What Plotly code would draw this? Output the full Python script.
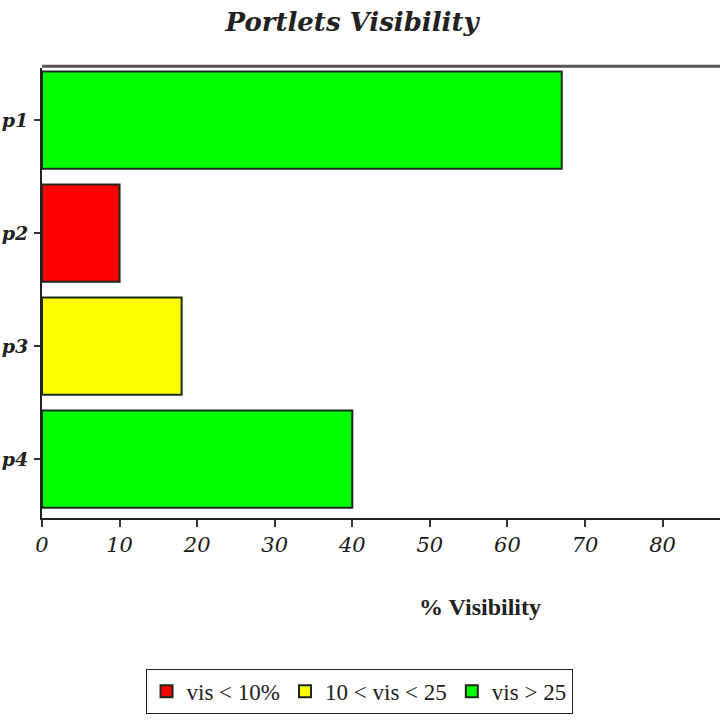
import plotly.graph_objects as go

# data
portlets = ["p1", "p2", "p3", "p4"]
visibility = [67, 10, 18, 40]
x_ticks = [0, 10, 20, 30, 40, 50, 60, 70, 80, 90]

groups = ["vis < 10%", "10 < vis < 25", "vis > 25"]
group_colors = ["#ff0000", "#ffff00", "#00ff00"]


def group_of(v):
    if v <= 10:
        return 0
    if v < 25:
        return 1
    return 2


fig = go.Figure()
for gi, name in enumerate(groups):
    ys = [p for p, v in zip(portlets, visibility) if group_of(v) == gi]
    xs = [v for v in visibility if group_of(v) == gi]
    fig.add_trace(go.Bar(
        x=xs, y=ys, name=name, orientation="h",
        marker=dict(color=group_colors[gi], line=dict(color="#1c2a1c", width=2)),
        width=0.86,
    ))

fig.update_layout(
    width=720, height=720,
    margin=dict(l=42, r=0, t=68, b=202),
    paper_bgcolor="white", plot_bgcolor="white",
    barmode="overlay",
    title=dict(text="<b><i>Portlets Visibility</i></b>", x=0.489, xanchor="center",
               y=0.969, yanchor="middle",
               font=dict(family="DejaVu Serif", size=26, color="#222")),
    legend=dict(orientation="h", x=0.4676, xanchor="center", y=-0.335, yanchor="top",
                bordercolor="#222", borderwidth=1,
                font=dict(family="Liberation Serif", size=23, color="#222"),
                traceorder="normal"),
    showlegend=True,
)

fig.update_xaxes(
    range=[0, 87.4], tickvals=x_ticks, ticks="outside", ticklen=7, tickwidth=1.5,
    tickcolor="#333", showline=True, linecolor="#222", linewidth=2,
    showgrid=False, zeroline=False, fixedrange=True, automargin=False,
    tickfont=dict(family="DejaVu Serif", size=21, color="#1a1a1a", style="italic"),
)
fig.update_yaxes(
    categoryorder="array", categoryarray=portlets,
    range=[3.52, -0.46], ticks="outside", ticklen=6, tickwidth=1.5, tickcolor="#333",
    showline=True, linecolor="#222", linewidth=2, showgrid=False, zeroline=False,
    automargin=False, ticklabelstandoff=2,
    tickfont=dict(family="DejaVu Serif", size=19, color="#222", style="italic", weight="bold"),
)

# top border
fig.add_shape(type="line", xref="paper", yref="paper", x0=0, x1=1, y0=1.004, y1=1.004,
              line=dict(color="#555", width=3))

fig.add_annotation(text="<b>% Visibility</b>", xref="paper", yref="paper",
                   x=0.646, y=-0.198, xanchor="center", yanchor="middle", showarrow=False,
                   font=dict(family="Liberation Serif", size=24, color="#222"))

fig.write_html("out.html", config={"displayModeBar": False},
               post_script="document.body.style.margin='0';")
